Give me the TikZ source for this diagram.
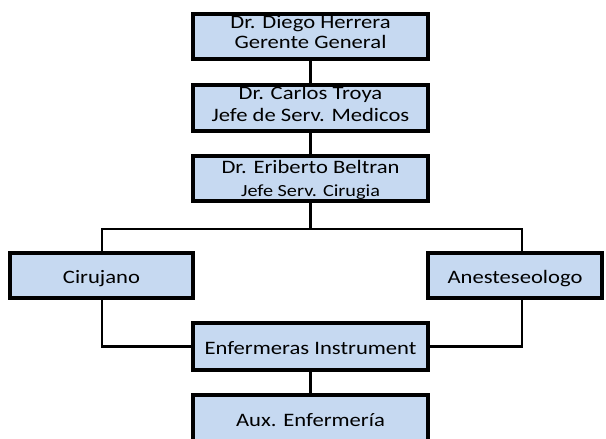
\documentclass[tikz,border=0pt]{standalone}
\usepackage{fontspec}
\setmainfont{Carlito}[FakeStretch=1.19]
\usetikzlibrary{backgrounds}
\definecolor{boxfill}{RGB}{198,217,241}
\begin{document}
\begin{tikzpicture}[x=1pt,y=-1pt,
  box/.style={draw=black, fill=boxfill, line width=4pt, rectangle, inner sep=0pt,
    font=\fontsize{19}{21}\selectfont, text height=15pt, text depth=0pt},
  wide/.style={minimum width=235pt},
  line/.style={anchor=base, inner sep=0pt, font=\fontsize{19}{21}\selectfont},
  link/.style={draw=black, line width=2.2pt}]
\useasboundingbox (0,0) rectangle (606,439);

% boxes
\node[box, wide, minimum height=45pt] (b1) at (310.5,36.5) {};
\node[box, wide, minimum height=46pt] (b2) at (310.5,108) {};
\node[box, wide, minimum height=45pt] (b3) at (310.5,178.5) {};
\node[box, minimum width=183pt, minimum height=45pt] (cir) at (101.5,275.5) {Cirujano};
\node[box, minimum width=174pt, minimum height=45pt] (ane) at (515,275.5) {Anesteseologo};
\node[box, wide, minimum height=47pt] (enf) at (310.5,346.5) {Enfermeras Instrument};
\node[box, wide, minimum height=47pt] (aux) at (310.5,418.5) {Aux. Enfermería};

% two-line titles
\node[line] (b1a) at (310.5,28) {Dr. Diego Herrera};
\node[line] (b1b) at (310.5,48.8) {Gerente General};
\node[line] (b2a) at (310.5,99.5) {Dr. Carlos Troya};
\node[line] (b2b) at (310.5,121.5) {Jefe de Serv. Medicos};
\node[line] (b3a) at (310.5,173.5) {Dr. Eriberto Beltran};
\node[line, font=\fontsize{17}{20}\selectfont] (b3b) at (310.5,196.5) {Jefe Serv. Cirugia};

% junction points of the branch bar
\coordinate (hm) at (310.5,229);
\coordinate (hl) at (102,229);
\coordinate (hr) at (522,229);

% connectors, kept behind the boxes
\begin{scope}[on background layer]
  \draw[link] (b1.south) -- (b2.north);
  \draw[link] (b2.south) -- (b3.north);
  \draw[link] (b3.south) -- (hm);
  \draw[link] (hl |- cir.north) -- (hl) -- (hr) -- (hr |- ane.north);
  \draw[link] (hl |- cir.south) -- (hl |- enf.west) -- (enf.west);
  \draw[link] (hr |- ane.south) -- (hr |- enf.east) -- (enf.east);
  \draw[link] (enf.south) -- (aux.north);
\end{scope}
\end{tikzpicture}
\end{document}
